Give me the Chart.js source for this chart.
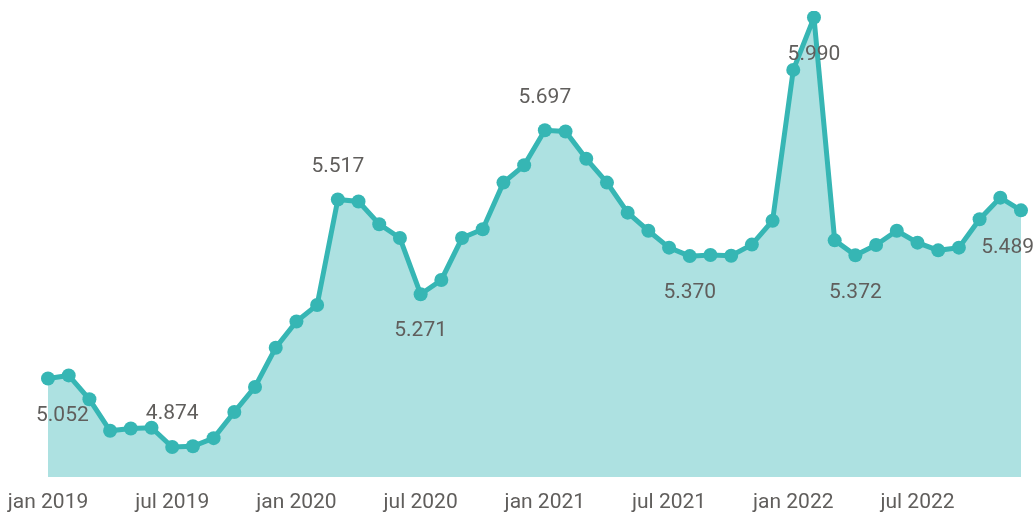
<!DOCTYPE html>
<html>
<head>
<meta charset="utf-8">
<script src="https://cdn.jsdelivr.net/npm/chart.js@4/dist/chart.umd.min.js"></script>
<style>
  body { margin: 0; background: #fff; }
  #wrap { width: 1034px; height: 513px; }
</style>
</head>
<body>
<div id="wrap"><canvas id="chart"></canvas></div>
<script>
// monthly categories, jan 2019 .. dec 2022
const months = [
  'jan 2019', 'feb 2019', 'mrt 2019', 'apr 2019', 'mei 2019', 'jun 2019',
  'jul 2019', 'aug 2019', 'sep 2019', 'okt 2019', 'nov 2019', 'dec 2019',
  'jan 2020', 'feb 2020', 'mrt 2020', 'apr 2020', 'mei 2020', 'jun 2020',
  'jul 2020', 'aug 2020', 'sep 2020', 'okt 2020', 'nov 2020', 'dec 2020',
  'jan 2021', 'feb 2021', 'mrt 2021', 'apr 2021', 'mei 2021', 'jun 2021',
  'jul 2021', 'aug 2021', 'sep 2021', 'okt 2021', 'nov 2021', 'dec 2021',
  'jan 2022', 'feb 2022', 'mrt 2022', 'apr 2022', 'mei 2022', 'jun 2022',
  'jul 2022', 'aug 2022', 'sep 2022', 'okt 2022', 'nov 2022', 'dec 2022'
];

// series values
const values = [
  5.052, 5.060, 4.998, 4.916, 4.922, 4.924, 4.874, 4.876, 4.897, 4.965, 5.030, 5.132,
  5.200, 5.243, 5.517, 5.512, 5.453, 5.417, 5.271, 5.308, 5.417, 5.440, 5.561, 5.606,
  5.697, 5.694, 5.623, 5.561, 5.483, 5.436, 5.392, 5.370, 5.373, 5.371, 5.400, 5.462,
  5.854, 5.990, 5.411, 5.372, 5.399, 5.436, 5.405, 5.385, 5.392, 5.466, 5.522, 5.489
];

// which points carry a data label, and on which side
const labelIdx = [0, 6, 14, 18, 24, 31, 37, 39, 47];
const labelSide = ['below', 'above', 'above', 'below', 'above', 'below', 'below', 'below', 'below'];

// x tick labels shown every six months
const tickEvery = 6;

const lineColor = '#36b6b4';
const fillColor = '#ade1e1';
const textColor = '#605e5c';
const font = 'Roboto, "DejaVu Sans", sans-serif';

const pointLabels = {
  id: 'pointLabels',
  afterDatasetsDraw(chart) {
    const ctx = chart.ctx;
    const meta = chart.getDatasetMeta(0);
    ctx.save();
    ctx.font = '21px ' + font;
    ctx.fillStyle = textColor;
    ctx.textBaseline = 'middle';
    ctx.textAlign = 'left';
    labelIdx.forEach((i, k) => {
      const pt = meta.data[i];
      const txt = values[i].toFixed(3);
      const w = ctx.measureText(txt).width;
      let x = pt.x - w / 2;
      x = Math.max(36, Math.min(chart.width - w, x));
      const y = labelSide[k] === 'above' ? pt.y - 33 : pt.y + 37;
      ctx.fillText(txt, x, y);
    });
    ctx.restore();
  }
};

new Chart(document.getElementById('chart'), {
  type: 'line',
  data: {
    labels: months,
    datasets: [{
      data: values,
      borderColor: lineColor,
      backgroundColor: fillColor,
      fill: 'start',
      borderWidth: 5,
      tension: 0,
      pointRadius: 7,
      pointHoverRadius: 7,
      pointBackgroundColor: lineColor,
      pointBorderWidth: 0
    }]
  },
  options: {
    responsive: true,
    maintainAspectRatio: false,
    animation: false,
    layout: { padding: { left: 48, right: 13, top: 11, bottom: -16 } },
    plugins: { legend: { display: false }, tooltip: { enabled: false } },
    scales: {
      x: {
        offset: false,
        grid: { display: false, drawTicks: false },
        border: { display: false },
        ticks: {
          autoSkip: false,
          maxRotation: 0,
          padding: 0,
          color: textColor,
          font: { family: font, size: 21, lineHeight: '52px' },
          callback: (v, i) => (i % tickEvery === 0 ? months[i] : '')
        }
      },
      y: {
        display: false,
        min: 4.796,
        max: 6.007
      }
    }
  },
  plugins: [pointLabels]
});
</script>
</body>
</html>
